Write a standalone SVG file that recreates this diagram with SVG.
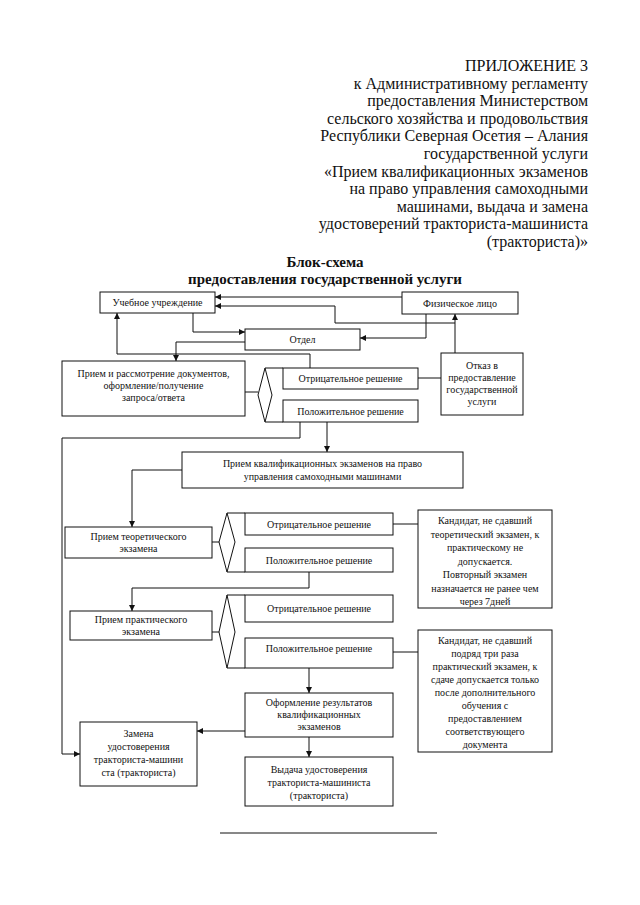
<svg xmlns="http://www.w3.org/2000/svg" width="640" height="905" viewBox="0 0 640 905">
<defs>
<marker id="ah" viewBox="0 0 10 10" refX="10" refY="5" markerWidth="6" markerHeight="6" orient="auto" markerUnits="userSpaceOnUse"><path d="M0,0 L10,5 L0,10 z" fill="#111"/></marker>
<style>
.hdr{font-family:"Liberation Serif","Times New Roman",serif;font-size:16px;fill:#111;text-anchor:end}
.ttl{font-family:"Liberation Serif","Times New Roman",serif;font-size:15px;font-weight:bold;fill:#111;text-anchor:middle}
.box{fill:#fff;stroke:#111;stroke-width:1}
.t{font-family:"Liberation Serif","Times New Roman",serif;font-size:10px;fill:#111;text-anchor:middle}
.c{fill:none;stroke:#111;stroke-width:1}
.a{fill:none;stroke:#111;stroke-width:1;marker-end:url(#ah)}
</style>
</defs>
<rect width="640" height="905" fill="#fff"/>
<g id="header">
<text class="hdr" x="588" y="71">ПРИЛОЖЕНИЕ 3</text>
<text class="hdr" x="588" y="88.6">к Административному регламенту</text>
<text class="hdr" x="588" y="106.2">предоставления Министерством</text>
<text class="hdr" x="588" y="123.8">сельского хозяйства и продовольствия</text>
<text class="hdr" x="588" y="141.4">Республики Северная Осетия – Алания</text>
<text class="hdr" x="588" y="159">государственной услуги</text>
<text class="hdr" x="588" y="176.6">«Прием квалификационных экзаменов</text>
<text class="hdr" x="588" y="194.2">на право управления самоходными</text>
<text class="hdr" x="588" y="211.8">машинами, выдача и замена</text>
<text class="hdr" x="588" y="229.4">удостоверений тракториста-машиниста</text>
<text class="hdr" x="588" y="247">(тракториста)»</text>
</g>
<g id="title">
<text class="ttl" x="325" y="267">Блок-схема</text>
<text class="ttl" x="325" y="284">предоставления государственной услуги</text>
</g>
<g id="connectors">
<polyline class="a" points="402,297 215,297"/>
<polyline class="a" points="455,353 455,314"/>
<polyline class="a" points="455,323 335,323 335,306 215,306"/>
<polyline class="a" points="426,314 426,338 360,338"/>
<polyline class="a" points="193,313 193,332 245,332"/>
<polyline class="a" points="245,342 176,342 176,361"/>
<polyline class="a" points="310,368 310,354 117,354 117,313"/>
<polyline class="c" points="245,392 258,392"/>
<polyline class="c" points="265,368 283,368"/>
<polyline class="c" points="265,422 283,422"/>
<polyline class="c" points="418,378 441,378"/>
<polyline class="a" points="300,422 300,438 62,438 62,754 80,754"/>
<polyline class="a" points="327,422 327,452"/>
<polyline class="a" points="182,470 132,470 132,527"/>
<polyline class="c" points="212,542 219,542"/>
<polyline class="c" points="227,513 245,513"/>
<polyline class="c" points="227,572 245,572"/>
<polyline class="c" points="393,524 418,524"/>
<polyline class="a" points="309,572 309,588 132,588 132,611"/>
<polyline class="c" points="212,632 219,632"/>
<polyline class="c" points="227,595 245,595"/>
<polyline class="c" points="227,668 245,668"/>
<polyline class="c" points="393,652 418,652"/>
<polyline class="a" points="309,668 309,693"/>
<polyline class="a" points="245,731 197,731"/>
<polyline class="a" points="309,737 309,757"/>
</g>
<g id="n-uchebnoe"><rect class="box" x="100" y="292" width="115" height="21"/><text class="t" x="157.5" y="306">Учебное учреждение</text></g>
<g id="n-fizlico"><rect class="box" x="402" y="292" width="116" height="22"/><text class="t" x="460" y="306.5">Физическое лицо</text></g>
<g id="n-otdel"><rect class="box" x="245" y="329" width="115" height="21"/><text class="t" x="302.5" y="343">Отдел</text></g>
<g id="n-priem-docs"><rect class="box" x="62" y="361" width="183" height="55"/><text class="t" x="153.5" y="377">Прием и рассмотрение документов,</text><text class="t" x="153.5" y="389">оформление/получение</text><text class="t" x="153.5" y="401">запроса/ответа</text></g>
<g id="d1"><polygon class="box" points="265,368 272,395 265,422 258,395"/></g>
<g id="n-otr1"><rect class="box" x="283" y="368" width="135" height="21"/><text class="t" x="350.5" y="382">Отрицательное решение</text></g>
<g id="n-pol1"><rect class="box" x="283" y="400" width="135" height="22"/><text class="t" x="350.5" y="414.5">Положительное решение</text></g>
<g id="n-otkaz"><rect class="box" x="441" y="353" width="82" height="62"/><text class="t" x="482" y="369">Отказ в</text><text class="t" x="482" y="381">предоставление</text><text class="t" x="482" y="393">государственной</text><text class="t" x="482" y="405">услуги</text></g>
<g id="n-exam"><rect class="box" x="182" y="452" width="281" height="36"/><text class="t" x="322.5" y="467">Прием квалификационных экзаменов на право</text><text class="t" x="322.5" y="480">управления самоходными машинами</text></g>
<g id="n-teor"><rect class="box" x="65" y="527" width="147" height="31"/><text class="t" x="138.5" y="540">Прием теоретического</text><text class="t" x="138.5" y="552">экзамена</text></g>
<g id="d2"><polygon class="box" points="227,513 235,542 227,572 219,542"/></g>
<g id="n-otr2"><rect class="box" x="245" y="513" width="148" height="22"/><text class="t" x="319" y="527.5">Отрицательное решение</text></g>
<g id="n-pol2"><rect class="box" x="245" y="548" width="148" height="24"/><text class="t" x="319" y="563.5">Положительное решение</text></g>
<g id="n-kand1"><rect class="box" x="418" y="510" width="134" height="98"/><text class="t" x="485" y="524">Кандидат, не сдавший</text><text class="t" x="485" y="537.5">теоретический экзамен, к</text><text class="t" x="485" y="551">практическому не</text><text class="t" x="485" y="564.5">допускается.</text><text class="t" x="485" y="578">Повторный экзамен</text><text class="t" x="485" y="591.5">назначается не ранее чем</text><text class="t" x="485" y="605">через 7дней</text></g>
<g id="n-prakt"><rect class="box" x="70" y="611" width="142" height="29"/><text class="t" x="141" y="623">Прием практического</text><text class="t" x="141" y="635">экзамена</text></g>
<g id="d3"><polygon class="box" points="227,595 235,632 227,668 219,632"/></g>
<g id="n-otr3"><rect class="box" x="245" y="595" width="148" height="27"/><text class="t" x="319" y="612">Отрицательное решение</text></g>
<g id="n-pol3"><rect class="box" x="245" y="638" width="148" height="30"/><text class="t" x="319" y="652">Положительное решение</text></g>
<g id="n-kand2"><rect class="box" x="418" y="630" width="134" height="122"/><text class="t" x="485" y="644">Кандидат, не сдавший</text><text class="t" x="485" y="657">подряд три раза</text><text class="t" x="485" y="670">практический экзамен, к</text><text class="t" x="485" y="683">сдаче допускается только</text><text class="t" x="485" y="696">после дополнительного</text><text class="t" x="485" y="709">обучения с</text><text class="t" x="485" y="722">предоставлением</text><text class="t" x="485" y="735">соответствующего</text><text class="t" x="485" y="748">документа</text></g>
<g id="n-oform"><rect class="box" x="245" y="693" width="148" height="44"/><text class="t" x="319" y="706">Оформление результатов</text><text class="t" x="319" y="718">квалификационных</text><text class="t" x="319" y="730">экзаменов</text></g>
<g id="n-zamena"><rect class="box" x="80" y="722" width="117" height="64"/><text class="t" x="138.5" y="737">Замена</text><text class="t" x="138.5" y="750">удостоверения</text><text class="t" x="138.5" y="763">тракториста-машини</text><text class="t" x="138.5" y="776">ста (тракториста)</text></g>
<g id="n-vydacha"><rect class="box" x="245" y="757" width="148" height="49"/><text class="t" x="319" y="773">Выдача удостоверения</text><text class="t" x="319" y="786">тракториста-машиниста</text><text class="t" x="319" y="799">(тракториста)</text></g>
<line x1="220" y1="833" x2="437" y2="833" stroke="#111" stroke-width="1"/>
</svg>
